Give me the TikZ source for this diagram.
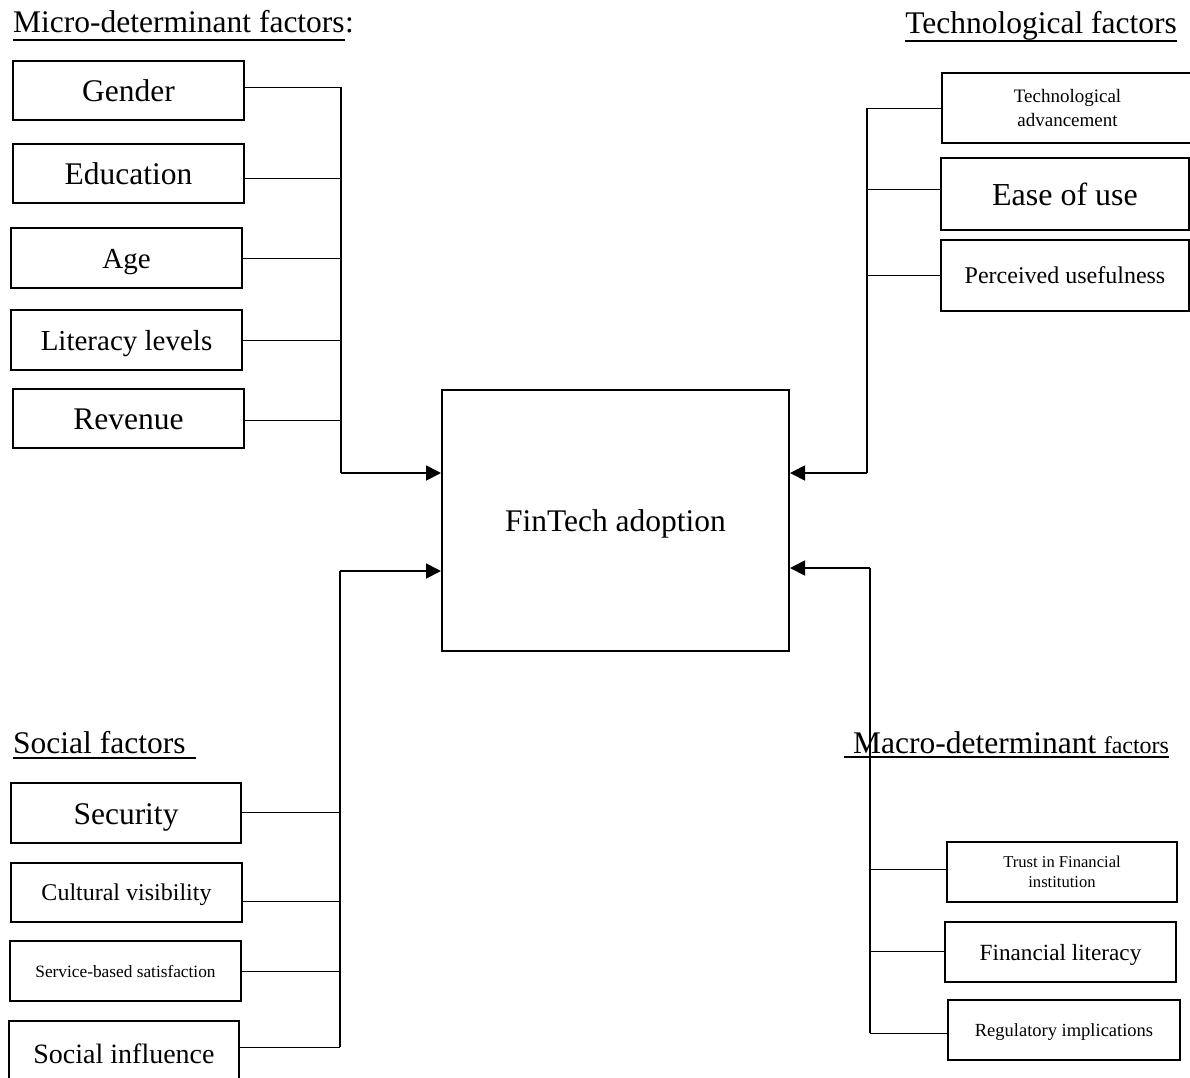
\documentclass[tikz,border=0pt]{standalone}
\usepackage{fontspec}
\setmainfont{Liberation Serif}
\usetikzlibrary{arrows.meta}
\begin{document}
\begin{tikzpicture}[x=1pt,y=-1pt,
  factorbox/.style={draw, line width=2pt, inner sep=0pt, align=center, fill=white},
  % single-line box text: fixed height, no depth, so the baseline sits evenly
  oneline/.style={text height=#1, text depth=0pt},
  headtxt/.style={inner sep=0pt, anchor=base west},
  link/.style={line width=1pt},
  trunk/.style={line width=1.5pt},
  feed/.style={line width=1.8pt, -{Triangle[length=15pt,width=15pt]}},
  ulrule/.style={line width=1.5pt},
  fA/.style={font=\fontsize{31.5}{38}\selectfont},
  fB/.style={font=\fontsize{29}{35}\selectfont},
  fC/.style={font=\fontsize{24}{29}\selectfont},
  fD/.style={font=\fontsize{18.5}{22}\selectfont}]
\useasboundingbox (0,0) rectangle (1190,1077);

% ---------- central box ----------
\node[factorbox, fA, oneline=22pt, minimum width=347pt, minimum height=261pt] (fin) at (615.5,520.5) {FinTech adoption};

% ---------- micro-determinant factors ----------
\node[headtxt, fA] (micro) at (13,32) {Micro-determinant factors};
\node[headtxt, fA, anchor=base west] (microcolon) at (micro.base east) {:};
\draw[ulrule] ([yshift=-8pt]micro.base west) -- ([yshift=-8pt]micro.base east);

\node[factorbox, fA, oneline=22pt, minimum width=231pt, minimum height=59pt] (gender) at (128.5,90.5) {Gender};
\node[factorbox, fA, oneline=22pt, minimum width=231pt, minimum height=59pt] (edu) at (128.5,173.5) {Education};
\node[factorbox, fB, oneline=21pt, minimum width=231pt, minimum height=60pt] (age) at (126.5,258) {Age};
\node[factorbox, fB, oneline=20.3pt, minimum width=231pt, minimum height=60pt] (lit) at (126.5,340) {Literacy levels};
\node[factorbox, fA, oneline=22pt, minimum width=231pt, minimum height=59pt] (rev) at (128.5,418.5) {Revenue};

\coordinate (mG) at (341,87);
\coordinate (mE) at (341,178);
\coordinate (mA) at (341,258);
\coordinate (mL) at (341,340);
\coordinate (mR) at (341,420);
\coordinate (mEnd) at (341,473);
\draw[link] (gender.east |- mG) -- (mG);
\draw[link] (edu.east |- mE) -- (mE);
\draw[link] (age.east |- mA) -- (mA);
\draw[link] (lit.east |- mL) -- (mL);
\draw[link] (rev.east |- mR) -- (mR);
\draw[trunk] (mG) -- (mEnd);
\draw[feed] (mEnd) -- (fin.west |- mEnd);

% ---------- technological factors ----------
\node[headtxt, fA, anchor=base east] (tech) at (1177,33) {Technological factors};
\draw[ulrule] ([yshift=-8pt]tech.base west) -- ([yshift=-8pt]tech.base east);

\node[factorbox, minimum width=251pt, minimum height=70pt, font=\fontsize{19}{24}\selectfont] (adv) at (1067.5,108) {Technological\\advancement};
\node[factorbox, font=\fontsize{32}{38}\selectfont, oneline=22.4pt, minimum width=248pt, minimum height=72pt] (ease) at (1065,194) {Ease of use};
\node[factorbox, fC, oneline=16.8pt, minimum width=248pt, minimum height=71pt] (perc) at (1065,275.5) {Perceived usefulness};

\coordinate (tA) at (867,108);
\coordinate (tE) at (867,189);
\coordinate (tP) at (867,275);
\coordinate (tEnd) at (867,473);
\draw[link] (adv.west |- tA) -- (tA);
\draw[link] (ease.west |- tE) -- (tE);
\draw[link] (perc.west |- tP) -- (tP);
\draw[trunk] (tA) -- (tEnd);
\draw[feed] (tEnd) -- (fin.east |- tEnd);

% ---------- social factors ----------
\node[headtxt, fA] (social) at (13,753) {Social factors};
\draw[ulrule] (13,758) -- (196,758);

\node[factorbox, fA, oneline=22pt, minimum width=230pt, minimum height=60pt] (sec) at (126,813) {Security};
\node[factorbox, fC, oneline=16.8pt, minimum width=231pt, minimum height=59pt] (cult) at (126.5,892.5) {Cultural visibility};
\node[factorbox, font=\fontsize{17.3}{21}\selectfont, oneline=12.1pt, minimum width=231pt, minimum height=60pt] (serv) at (125.5,971) {Service-based satisfaction};
\node[factorbox, font=\fontsize{28}{34}\selectfont, oneline=19.6pt, minimum width=230pt, minimum height=66pt] (infl) at (124,1054) {Social influence};

\coordinate (sS) at (340,812);
\coordinate (sC) at (340,901);
\coordinate (sV) at (340,971);
\coordinate (sI) at (340,1047);
\coordinate (sEnd) at (340,571);
\draw[link] (sec.east |- sS) -- (sS);
\draw[link] (cult.east |- sC) -- (sC);
\draw[link] (serv.east |- sV) -- (sV);
\draw[link] (infl.east |- sI) -- (sI);
\draw[trunk] (sI) -- (sEnd);
\draw[feed] (sEnd) -- (fin.west |- sEnd);

% ---------- macro-determinant factors ----------
\node[headtxt, fA] (macro) at (853,753) {Macro-determinant};
\node[headtxt, fC, anchor=base west] (macrof) at ([xshift=7pt]macro.base east) {factors};
\draw[ulrule] (844,757) -- (macrof.base east |- 0,757);

\node[factorbox, minimum width=230pt, minimum height=60pt, font=\fontsize{16.6}{20}\selectfont] (trust) at (1062,872) {Trust in Financial\\institution};
\node[factorbox, font=\fontsize{23.2}{28}\selectfont, oneline=16.2pt, minimum width=231pt, minimum height=60pt] (flit) at (1060.5,952) {Financial literacy};
\node[factorbox, fD, oneline=13pt, minimum width=232pt, minimum height=60pt] (reg) at (1064,1030) {Regulatory implications};

\coordinate (kT) at (870,869);
\coordinate (kF) at (870,951);
\coordinate (kR) at (870,1033);
\coordinate (kEnd) at (870,568);
\draw[link] (trust.west |- kT) -- (kT);
\draw[link] (flit.west |- kF) -- (kF);
\draw[link] (reg.west |- kR) -- (kR);
\draw[trunk] (kR) -- (kEnd);
\draw[feed] (kEnd) -- (fin.east |- kEnd);
\end{tikzpicture}
\end{document}
